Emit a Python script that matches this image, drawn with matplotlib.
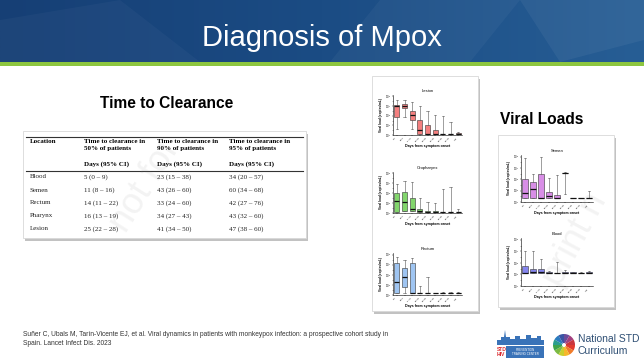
# mpox diagnosis slide: clearance table + viral load box plots

import numpy as np
import matplotlib
matplotlib.use("Agg")
import matplotlib.pyplot as plt
import matplotlib.patches as mpatches

plt.rcParams['font.family'] = ['Liberation Sans', 'DejaVu Sans']

W, H = 644, 362

# ---- table data
table_cols = ["Location", "Time to clearance in\n50% of patients",
              "Time to clearance in\n90% of patients",
              "Time to clearance in\n95% of patients"]
table_sub = ["", "Days (95% CI)", "Days (95% CI)", "Days (95% CI)"]
locations = ["Blood", "Semen", "Rectum", "Pharynx", "Lesion"]
clear_50 = ["5 (0 \u2013 9)", "11 (8 \u2013 16)", "14 (11 \u2013 22)", "16 (13 \u2013 19)", "25 (22 \u2013 28)"]
clear_90 = ["23 (15 \u2013 38)", "43 (26 \u2013 60)", "33 (24 \u2013 60)", "34 (27 \u2013 43)", "41 (34 \u2013 50)"]
clear_95 = ["34 (20 \u2013 57)", "60 (34 \u2013 68)", "42 (27 \u2013 76)", "43 (32 \u2013 60)", "47 (38 \u2013 60)"]

# ---- viral load box data, log10 copies/mL: (low, q1, median, q3, high)
days = ["1-5", "6-10", "11-15", "16-20", "21-25", "26-30", "31-35", "36-40", ">40"]
lesion = [(2.3, 4.7, 7.0, 7.3, 8.3), (4.7, 6.5, 7.1, 7.5, 8.3), (2.3, 4.2, 5.1, 6.0, 7.8),
          (1.3, 1.3, 2.0, 4.2, 7.1), (1.3, 1.3, 1.3, 3.0, 6.0), (1.3, 1.3, 1.3, 2.0, 5.1),
          (1.3, 1.3, 1.3, 1.3, 4.9), (1.3, 1.3, 1.3, 1.3, 3.7), (1.3, 1.3, 1.3, 1.5, 1.7)]
oropharynx = [(1.3, 1.3, 3.4, 5.0, 6.8), (1.5, 1.5, 3.2, 5.3, 7.4), (1.5, 1.5, 1.8, 4.1, 7.2),
              (1.3, 1.3, 1.4, 1.8, 4.0), (1.3, 1.3, 1.3, 1.4, 3.2), (1.3, 1.3, 1.3, 1.4, 3.1),
              (1.3, 1.3, 1.3, 1.3, 5.8), (1.3, 1.3, 1.3, 1.3, 6.3), (1.3, 1.3, 1.3, 1.3, 1.8)]
rectum = [(1.3, 1.3, 3.6, 7.4, 8.6), (1.3, 2.6, 4.5, 6.3, 8.0), (1.3, 1.3, 1.3, 7.4, 8.4),
          (1.3, 1.3, 1.3, 1.3, 2.8), (1.3, 1.3, 1.3, 1.4, 4.5), (1.3, 1.3, 1.3, 1.3, 1.4),
          (1.3, 1.3, 1.3, 1.3, 1.6), (1.3, 1.3, 1.3, 1.3, 1.5), (1.3, 1.3, 1.3, 1.3, 1.6)]
semen = [(1.7, 1.7, 2.6, 5.0, 8.7), (1.7, 1.7, 3.3, 4.5, 6.0), (1.7, 1.7, 1.7, 5.9, 9.0),
         (1.7, 1.7, 2.0, 2.7, 5.3), (1.7, 1.7, 1.7, 2.3, 5.7), (2.4, 6.1, 6.1, 6.1, 6.3),
         (1.7, 1.7, 1.7, 1.7, 1.7), (1.7, 1.7, 1.7, 1.7, 1.7), (1.7, 1.7, 1.7, 1.7, 3.0)]
blood = [(3.3, 3.3, 3.3, 4.4, 7.1), (3.3, 3.3, 3.4, 4.0, 7.1), (3.3, 3.3, 3.4, 4.0, 5.7),
         (3.3, 3.3, 3.3, 3.5, 3.6), (3.3, 3.3, 3.3, 3.3, 5.2), (3.3, 3.3, 3.3, 3.4, 3.7),
         (3.3, 3.3, 3.3, 3.4, 3.5), (3.3, 3.3, 3.3, 3.3, 3.4), (3.3, 3.3, 3.3, 3.4, 3.6)]

fig = plt.figure(figsize=(W / 100, H / 100), dpi=100)
bg = fig.add_axes([0, 0, 1, 1])
bg.set_xlim(0, W)
bg.set_ylim(H, 0)
bg.axis("off")

# banner
grad = np.linspace(0, 1, 256)[None, :]
bg.imshow(grad, extent=(0, W, 62, 0), aspect="auto",
          cmap=matplotlib.colors.LinearSegmentedColormap.from_list("b", ["#163f75", "#1b4c84", "#275e95"]),
          zorder=0)
for pts, a in [([(380, 0), (520, 0), (470, 62), (330, 62)], 0.04),
               ([(520, 0), (644, 0), (644, 40), (560, 62)], 0.05),
               ([(0, 20), (120, 0), (200, 62), (0, 62)], 0.03)]:
    bg.add_patch(mpatches.Polygon(pts, closed=True, color="white", alpha=a, lw=0, zorder=1))
bg.add_patch(mpatches.Rectangle((0, 62), W, 4, color="#8dc63f", lw=0, zorder=1))
bg.text(322, 38, "Diagnosis of Mpox", color="white", fontsize=21, ha="center", va="center", zorder=2)

bg.text(100, 103, "Time to Clearance", fontsize=11.2, weight="bold", va="center")
bg.text(500, 120, "Viral Loads", fontsize=11.2, weight="bold", va="center")


def panel(x0, y0, x1, y1):
    bg.add_patch(mpatches.Rectangle((x0 + 2, y0 + 3), x1 - x0, y1 - y0, color="#9a9a9a", lw=0, alpha=0.6, zorder=1))
    bg.add_patch(mpatches.Rectangle((x0, y0), x1 - x0, y1 - y0, facecolor="white", edgecolor="#d8d8d8", lw=0.6, zorder=2))


# table
panel(23, 131, 306, 238)
serif = ["Liberation Serif", "DejaVu Serif"]
colx = [30, 84, 157, 229]
bg.plot([26, 303], [137, 137], color="#333333", lw=0.8, zorder=3)
bg.plot([26, 303], [171, 171], color="#333333", lw=0.8, zorder=3)
for i, c in enumerate(table_cols):
    bg.text(colx[i], 139, c, family=serif, weight="bold", fontsize=5, va="top", linespacing=1.45, zorder=4)
    bg.text(colx[i], 164, table_sub[i], family=serif, weight="bold", fontsize=5, va="center", zorder=4)
for r in range(len(locations)):
    y = 177 + r * 13
    for i, col in enumerate([locations, clear_50, clear_90, clear_95]):
        bg.text(colx[i], y, col[r], family=serif, fontsize=5, va="center", color="#222222", zorder=4)

# viral load panels
panel(372, 76, 478, 311)
panel(498, 135, 614, 307)

bg.text(145, 185, "not for", fontsize=26, rotation=58, color="#888888", alpha=0.1, ha="center", va="center", zorder=5)
bg.text(575, 240, "print n", fontsize=26, rotation=62, color="#888888", alpha=0.1, ha="center", va="center", zorder=5)


def box_axes(rect, data, title, color):
    x0, y0, x1, y1 = rect
    ax = fig.add_axes([x0 / W, 1 - y1 / H, (x1 - x0) / W, (y1 - y0) / H], zorder=4)
    stats = [dict(whislo=d[0], q1=d[1], med=d[2], q3=d[3], whishi=d[4], fliers=[]) for d in data]
    ax.bxp(stats, widths=0.68, patch_artist=True, showfliers=False,
           boxprops=dict(facecolor=color, edgecolor="#333333", lw=0.4),
           medianprops=dict(color="#111111", lw=0.9),
           whiskerprops=dict(color="#555555", lw=0.4),
           capprops=dict(color="#555555", lw=0.4))
    ax.set_ylim(1, 9.3)
    ax.set_yticks(range(1, 10, 2))
    ax.set_yticks(range(1, 10), minor=True)
    ax.set_yticklabels(["$10^{%d}$" % k for k in range(1, 10, 2)], fontsize=1.8)
    ax.set_xticklabels(days, rotation=45, fontsize=1.7, ha="right")
    ax.tick_params(length=1, width=0.3, pad=0.6)
    ax.tick_params(which="minor", length=0.6, width=0.3)
    ax.set_title(title, fontsize=3, pad=2.5)
    ax.set_xlabel("Days from symptom onset", fontsize=2.6, labelpad=1, weight="bold")
    ax.set_ylabel("Viral load (copies/mL)", fontsize=2.3, labelpad=0.8, weight="bold")
    for s in ["top", "right"]:
        ax.spines[s].set_visible(False)
    for s in ["left", "bottom"]:
        ax.spines[s].set_linewidth(0.4)
    ax.patch.set_alpha(0)
    return ax


box_axes((393, 95, 462, 135), lesion, "Lesion", "#f47f7f")
box_axes((393, 172, 462, 213), oropharynx, "Oropharynx", "#82d66c")
box_axes((393, 253, 462, 295), rectum, "Rectum", "#9fc5f2")
box_axes((521, 155, 593, 202), semen, "Semen", "#d88ee6")
box_axes((521, 238, 593, 286), blood, "Blood", "#8585ee")

# citation
bg.text(23, 339, "Su\u00f1er C, Ubals M, Tar\u00edn-Vicente EJ, et al. Viral dynamics in patients with monkeypox infection: a prospective cohort study in\nSpain. Lancet Infect Dis. 2023",
        fontsize=4.75, color="#333333", va="center", linespacing=1.35)

# logos
sky = [(497, 345), (497, 340), (501, 340), (501, 337), (504, 337), (505, 330), (506, 337), (510, 337),
       (510, 339), (515, 339), (515, 336), (520, 336), (520, 339), (526, 339), (526, 335), (531, 335),
       (531, 338), (537, 338), (537, 336), (541, 336), (541, 340), (544, 340), (544, 345)]
bg.add_patch(mpatches.Polygon(sky, closed=True, color="#3a73b8", lw=0))
bg.text(497, 352, "STD\nHIV", color="#d9252a", fontsize=3.6, weight="bold", va="center", linespacing=0.9)
bg.add_patch(mpatches.Rectangle((506, 346), 38, 12, color="#3a73b8", lw=0))
bg.text(525, 352, "PREVENTION\nTRAINING CENTER", color="white", fontsize=2.2, ha="center", va="center", linespacing=1.0)

wheel = ["#e23b2e", "#f07c2a", "#f6b72b", "#c9cf2f", "#7cba43", "#3ea34a", "#2a9d8f",
         "#2b7bbf", "#3a55a4", "#6b4c9a", "#a3407f", "#c9363e"]
for k, c in enumerate(wheel):
    bg.add_patch(mpatches.Wedge((564, 345), 11, k * 30, (k + 1) * 30, width=9, color=c, lw=0))
bg.text(578, 339.5, "National STD", fontsize=7.5, color="#2f4f74", va="center")
bg.text(578, 351, "Curriculum", fontsize=7.5, color="#2f4f74", va="center")

plt.savefig("out.png", dpi=100)
